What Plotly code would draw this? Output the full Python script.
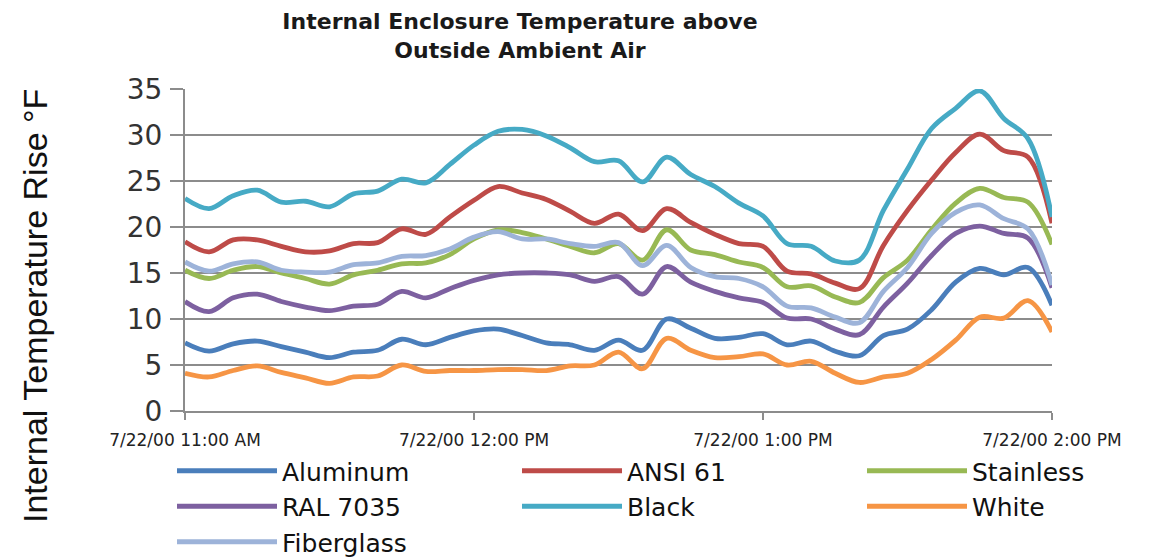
import pandas as pd
import plotly.graph_objects as go

# 5-minute readings, 11:00 AM to 2:00 PM on 7/22/00
times = pd.date_range("2000-07-22 11:00", "2000-07-22 14:00", freq="5min")

aluminum = [7.4, 6.5, 7.3, 7.6, 7.0, 6.4, 5.8, 6.4, 6.6, 7.8, 7.2, 8.0, 8.7,
            8.9, 8.2, 7.4, 7.2, 6.6, 7.7, 6.6, 10.0, 9.0, 7.9, 8.0, 8.4,
            7.2, 7.6, 6.5, 6.0, 8.2, 8.9, 11.0, 14.0, 15.5, 14.8, 15.6, 11.5]
ansi61 = [18.4, 17.3, 18.6, 18.6, 17.9, 17.3, 17.4, 18.2, 18.3, 19.8, 19.2, 21.1, 22.9,
          24.4, 23.7, 23.0, 21.7, 20.4, 21.4, 19.6, 22.0, 20.5, 19.2, 18.2, 17.9,
          15.2, 14.9, 13.9, 13.3, 18.0, 21.8, 25.1, 28.1, 30.1, 28.3, 27.6, 20.4]
stainless = [15.3, 14.4, 15.3, 15.7, 15.0, 14.4, 13.8, 14.8, 15.3, 16.0, 16.1, 17.0, 18.7,
             19.7, 19.4, 18.7, 17.9, 17.2, 18.2, 16.4, 19.7, 17.5, 17.0, 16.2, 15.6,
             13.5, 13.6, 12.4, 11.8, 14.5, 16.4, 19.7, 22.6, 24.2, 23.2, 22.7, 18.1]
ral7035 = [11.9, 10.8, 12.3, 12.7, 11.9, 11.3, 10.9, 11.4, 11.6, 13.0, 12.3, 13.3, 14.2,
           14.8, 15.0, 15.0, 14.8, 14.1, 14.6, 12.7, 15.7, 14.0, 13.0, 12.3, 11.8,
           10.1, 10.0, 8.9, 8.3, 11.3, 13.9, 16.9, 19.3, 20.1, 19.3, 18.8, 13.4]
black = [23.1, 22.0, 23.4, 24.0, 22.7, 22.8, 22.2, 23.6, 23.9, 25.2, 24.8, 26.8, 28.9,
         30.4, 30.6, 29.9, 28.6, 27.1, 27.2, 24.9, 27.6, 25.7, 24.4, 22.6, 21.2,
         18.2, 17.9, 16.3, 16.4, 21.8, 26.3, 30.7, 32.9, 34.8, 31.8, 29.6, 21.1]
white = [4.1, 3.7, 4.4, 4.9, 4.2, 3.6, 3.0, 3.7, 3.8, 5.0, 4.3, 4.4, 4.4,
         4.5, 4.5, 4.4, 4.9, 5.0, 6.4, 4.6, 7.9, 6.6, 5.8, 5.9, 6.2,
         5.0, 5.4, 4.1, 3.1, 3.7, 4.1, 5.6, 7.7, 10.2, 10.1, 12.0, 8.6]
fiberglass = [16.2, 15.2, 16.0, 16.2, 15.3, 15.1, 15.1, 15.9, 16.1, 16.8, 16.9, 17.6, 18.9,
              19.5, 18.7, 18.7, 18.2, 17.9, 18.3, 15.8, 18.0, 15.6, 14.6, 14.4, 13.5,
              11.4, 11.2, 10.2, 9.6, 13.0, 15.6, 19.3, 21.6, 22.4, 20.9, 19.8, 13.7]

series_names = ["Aluminum", "ANSI 61", "Stainless", "RAL 7035", "Black", "White", "Fiberglass"]
series_values = [aluminum, ansi61, stainless, ral7035, black, white, fiberglass]
series_colors = ["#4A7EBB", "#BE4B48", "#98B954", "#7D60A0", "#46AAC5", "#F69545", "#9DB3D9"]

x_tick_vals = ["2000-07-22 11:00", "2000-07-22 12:00", "2000-07-22 13:00", "2000-07-22 14:00"]
x_tick_text = ["7/22/00 11:00 AM", "7/22/00 12:00 PM", "7/22/00 1:00 PM", "7/22/00 2:00 PM"]
y_ticks = [0, 5, 10, 15, 20, 25, 30, 35]

# page body adds an 8px offset; figure is sized to fill the rest of the window
W, H = 1154, 549
L, R, T, B = 177, 110, 81, 146
plot_w = W - L - R
plot_h = H - T - B
plot_bottom = H - B

fig = go.Figure()
for name, vals, col in zip(series_names, series_values, series_colors):
    fig.add_trace(go.Scatter(
        x=times, y=vals, name=name, mode="lines",
        line=dict(color=col, width=4.8, shape="spline", smoothing=1.0),
    ))

fig.add_annotation(
    text="Internal Temperature Rise °F",
    xref="paper", yref="paper",
    x=(27 - L) / plot_w, y=(plot_bottom - 298) / plot_h,
    xanchor="center", yanchor="middle", showarrow=False, textangle=-90,
    font=dict(family="Liberation Sans, sans-serif", size=34, color="#111"),
)

fig.update_layout(
    width=W, height=H,
    paper_bgcolor="white", plot_bgcolor="white",
    margin=dict(l=L, r=R, t=T, b=B, autoexpand=False),
    title=dict(
        text="Internal Enclosure Temperature above<br>Outside Ambient Air",
        x=512 / W, xanchor="center", xref="container",
        y=1 - 21 / H, yanchor="middle", yref="container",
        font=dict(family="DejaVu Sans", size=22, color="#1a1a1a", weight="bold"),
    ),
    showlegend=True,
    legend=dict(
        orientation="h", xref="paper", yref="paper",
        x=(164 - L) / plot_w, xanchor="left",
        y=(plot_bottom - 440) / plot_h, yanchor="top",
        entrywidth=230, entrywidthmode="pixels", itemwidth=100,
        font=dict(family="DejaVu Sans", size=25, color="#111"),
        bgcolor="rgba(0,0,0,0)", tracegroupgap=0,
    ),
    xaxis=dict(
        type="date",
        range=["2000-07-22 11:00", "2000-07-22 14:00"],
        tickvals=x_tick_vals, ticktext=x_tick_text,
        tickfont=dict(family="DejaVu Sans", size=17, color="#222"),
        showgrid=False, zeroline=False,
        showline=True, linecolor="#8c8c8c", linewidth=2,
        ticks="outside", ticklen=7, tickwidth=2, tickcolor="#8c8c8c",
        ticklabelstandoff=6,
    ),
    yaxis=dict(
        range=[0, 35], tickvals=y_ticks,
        tickfont=dict(family="DejaVu Sans", size=28, color="#333"),
        showgrid=True, gridcolor="#8c8c8c", gridwidth=1.5,
        zeroline=False,
        showline=True, linecolor="#8c8c8c", linewidth=2,
        ticks="outside", ticklen=13, tickwidth=2, tickcolor="#8c8c8c",
        ticklabelstandoff=2,
    ),
)

fig.write_html("out.html")
